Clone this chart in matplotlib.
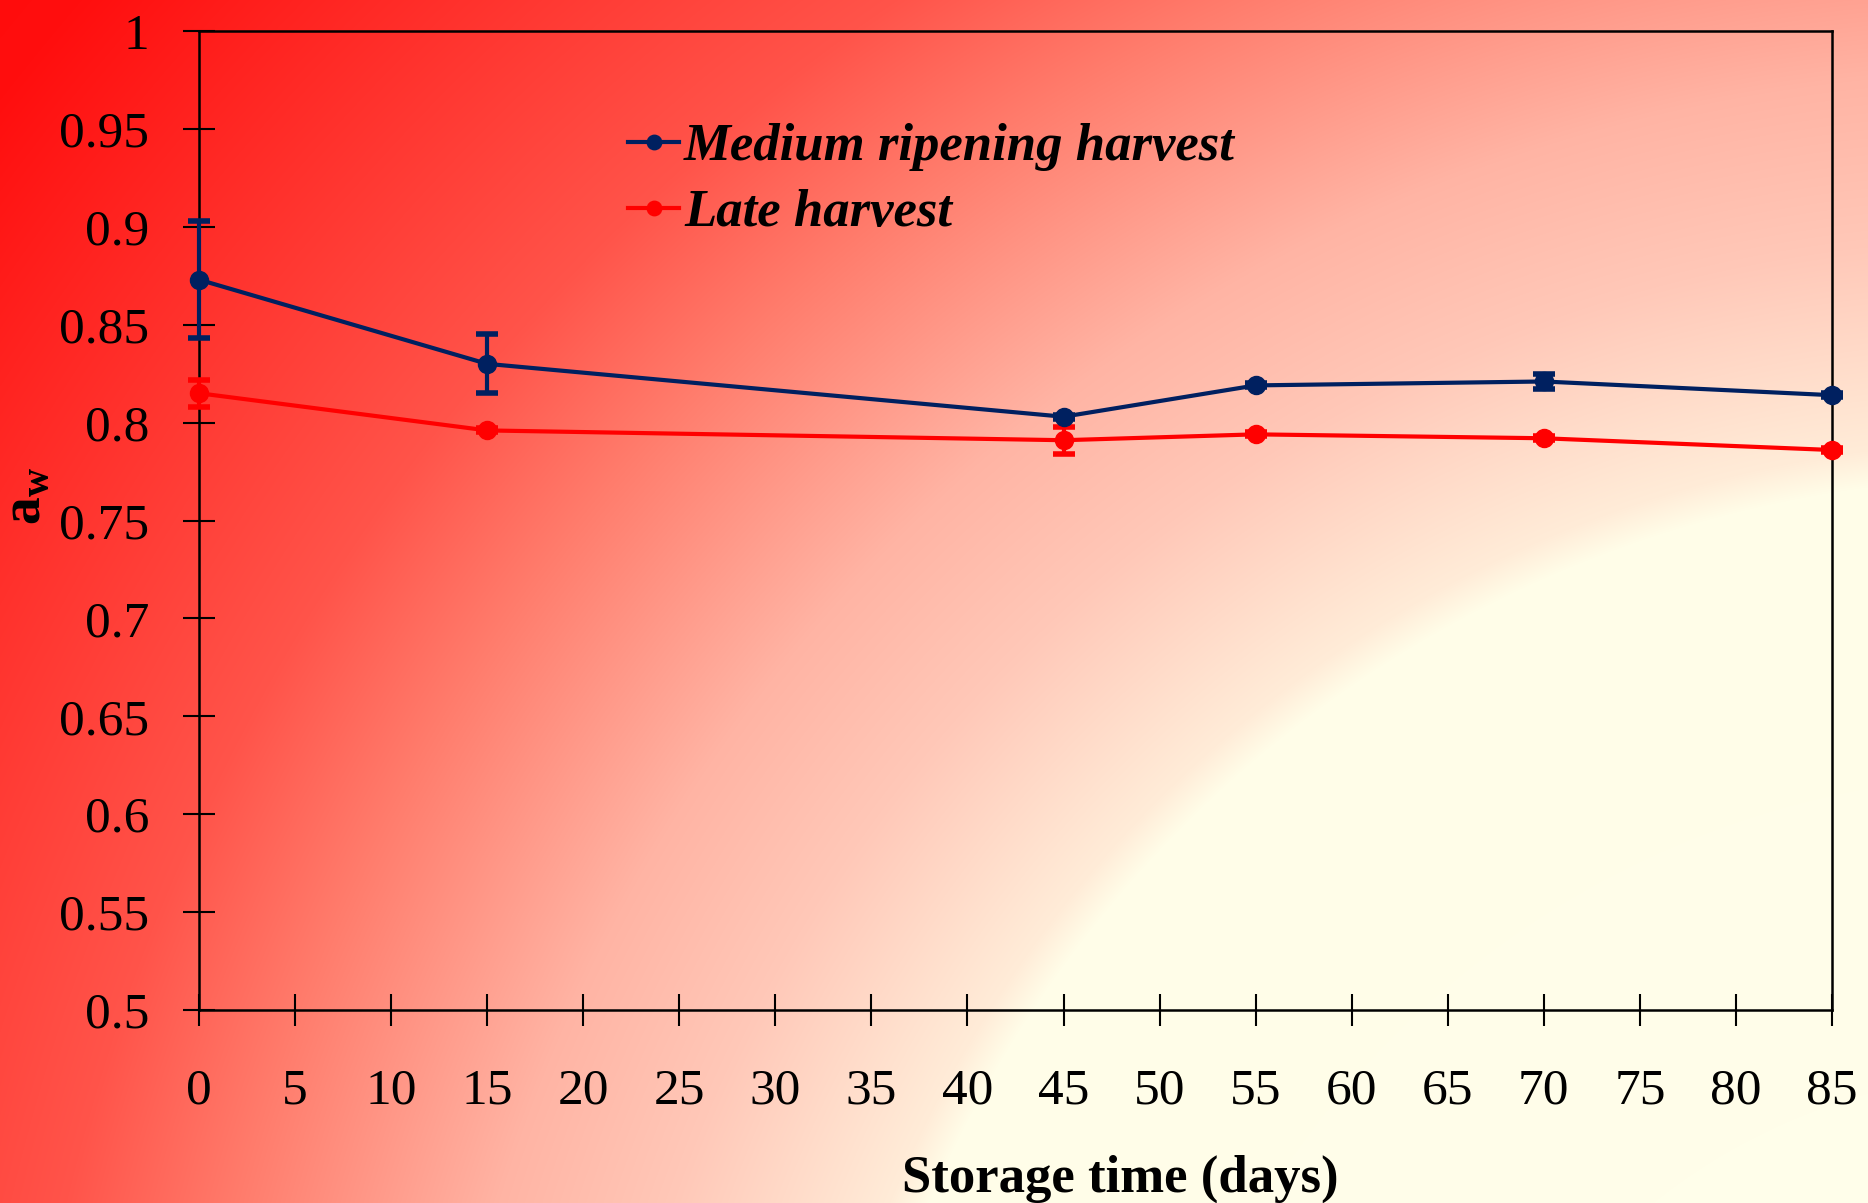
import numpy as np
import matplotlib
matplotlib.use("Agg")
import matplotlib.pyplot as plt

# ---- data ----
days = [0, 15, 45, 55, 70, 85]
medium = [0.873, 0.830, 0.803, 0.819, 0.821, 0.814]
medium_err = [0.030, 0.015, 0.001, 0.001, 0.004, 0.001]
late = [0.815, 0.796, 0.791, 0.794, 0.792, 0.786]
late_err = [0.007, 0.001, 0.007, 0.001, 0.001, 0.001]
x_ticks = list(range(0, 90, 5))
y_ticks = [0.5, 0.55, 0.6, 0.65, 0.7, 0.75, 0.8, 0.85, 0.9, 0.95, 1.0]
y_tick_labels = ["0.5", "0.55", "0.6", "0.65", "0.7", "0.75", "0.8", "0.85", "0.9", "0.95", "1"]

plt.rcParams['font.family'] = ['Liberation Serif', 'DejaVu Serif']
plt.rcParams['mathtext.fontset'] = 'custom'
plt.rcParams['mathtext.rm'] = 'Liberation Serif'
plt.rcParams['mathtext.bf'] = 'Liberation Serif:bold'

W, H = 1868, 1203
fig = plt.figure(figsize=(W / 100, H / 100), dpi=100)

# background: radial gradient, cream at bottom right to red at top left
bg = fig.add_axes([0, 0, 1, 1], zorder=0)
bg.set_axis_off()
yy, xx = np.mgrid[0:H, 0:W]
s = 1868 / 1568
d = np.hypot(xx - 1700 * s, yy - 1400 * s) / s
stops = [0, 1000, 1030, 1200, 1340, 1550, 1690, 2150, 2600]
g_vals = [255, 253, 236, 200, 180, 124, 84, 14, 0]
b_vals = [236, 232, 216, 184, 164, 108, 74, 14, 0]
img = np.zeros((H, W, 3))
img[..., 0] = 1.0
img[..., 1] = np.interp(d, stops, g_vals) / 255
img[..., 2] = np.interp(d, stops, b_vals) / 255
bg.imshow(img, aspect='auto', extent=[0, 1, 0, 1], origin='upper')
bg.set_xlim(0, 1)
bg.set_ylim(0, 1)

ax = fig.add_axes([199 / W, 1 - 1010 / H, (1832 - 199) / W, (1010 - 31) / H], zorder=1)
ax.patch.set_alpha(0)

navy = '#002060'
red = '#FF0000'
ax.errorbar(days, medium, yerr=medium_err, fmt='none', ecolor=navy,
            capsize=8, capthick=4, elinewidth=3, clip_on=False, zorder=3)
ax.errorbar(days, late, yerr=late_err, fmt='none', ecolor=red,
            capsize=8, capthick=4, elinewidth=3, clip_on=False, zorder=3)
ax.plot(days, medium, color=navy, lw=3, marker='o', ms=13,
        label='Medium ripening harvest', clip_on=False, zorder=4)
ax.plot(days, late, color=red, lw=3, marker='o', ms=13,
        label='Late harvest', clip_on=False, zorder=4)

ax.set_xlim(0, 85)
ax.set_ylim(0.5, 1.0)
ax.set_xticks(x_ticks)
ax.set_yticks(y_ticks)
ax.set_yticklabels(y_tick_labels)
ax.tick_params(axis='both', direction='inout', length=23, width=1.5,
               labelsize=37, colors='black')
ax.tick_params(axis='x', pad=30)
ax.tick_params(axis='y', pad=24.5)
for sp in ax.spines.values():
    sp.set_linewidth(1.8)
    sp.set_color('black')

ax.set_xlabel('Storage time (days)', fontsize=38, fontweight='bold')
ax.xaxis.set_label_coords(0.564, -0.1475)
ax.set_ylabel(r'$\mathbf{a}_{\mathbf{w}}$', fontsize=40)
ax.yaxis.set_label_coords(-0.090, 0.525)

leg = ax.legend(loc='upper left', bbox_to_anchor=(0.263, 0.906), frameon=False,
                prop={'size': 38, 'weight': 'bold', 'style': 'italic'},
                handlelength=0.95, handletextpad=0.1, labelspacing=0.35,
                borderpad=0, borderaxespad=0, markerscale=0.8)

fig.savefig('out.png', dpi=100)
